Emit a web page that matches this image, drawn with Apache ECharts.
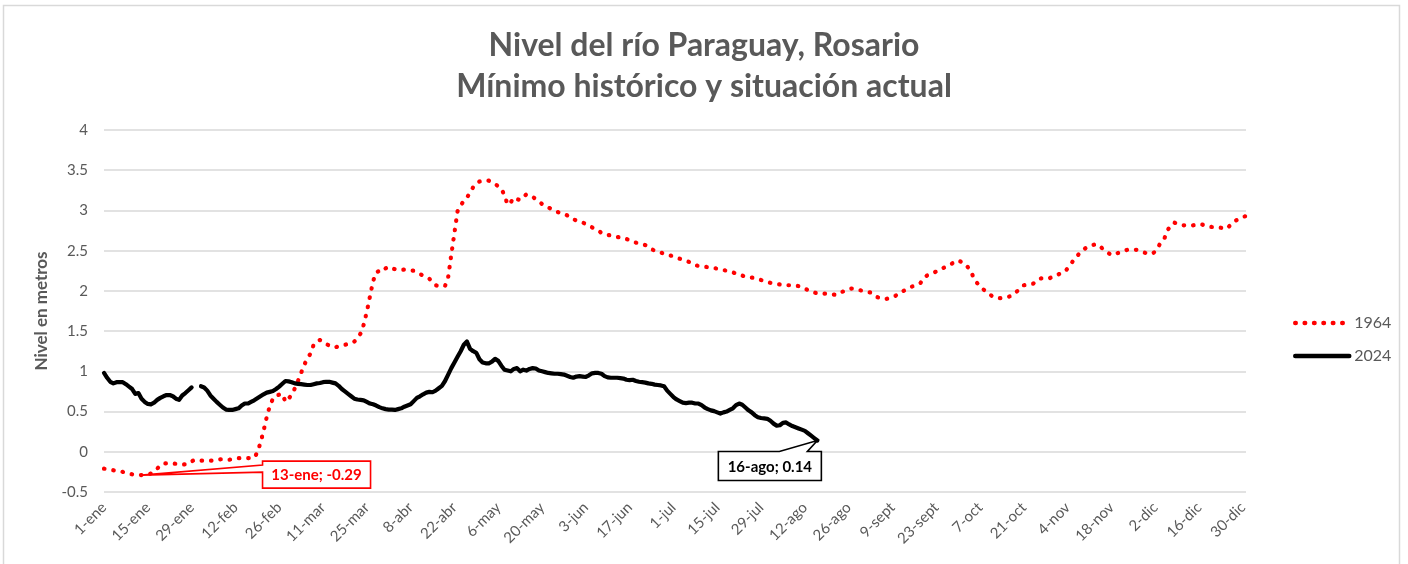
<!DOCTYPE html>
<html>
<head>
<meta charset="utf-8">
<script src="https://cdn.jsdelivr.net/npm/echarts@6/dist/echarts.min.js"></script>
<style>
html,body{margin:0;padding:0;background:#fff;}
#c{width:1408px;height:564px;}
</style>
</head>
<body>
<div id="c"></div>
<script>
// Calendar used for the category labels (leap year)
const monthNames = ['ene','feb','mar','abr','may','jun','jul','ago','sept','oct','nov','dic'];
const monthDays = [31,29,31,30,31,30,31,31,30,31,30,31];

// Series names
const seriesNames = ['1964', '2024'];

// Nivel 1964 (m), daily from 1-ene
const nivel1964 = [
-0.21,-0.215,-0.22,-0.23,-0.235,-0.24,-0.25,-0.26,-0.27,-0.28,
-0.285,-0.29,-0.29,-0.285,-0.28,-0.27,-0.24,-0.21,-0.17,-0.145,
-0.145,-0.145,-0.145,-0.15,-0.155,-0.16,-0.155,-0.15,-0.12,-0.10,
-0.105,-0.11,-0.11,-0.11,-0.11,-0.11,-0.10,-0.095,-0.09,-0.095,
-0.10,-0.09,-0.085,-0.08,-0.08,-0.08,-0.08,-0.078,-0.075,-0.01,
0.11,0.26,0.43,0.57,0.66,0.70,0.71,0.72,0.62,0.66,
0.71,0.79,0.88,0.98,1.08,1.16,1.22,1.33,1.37,1.39,
1.37,1.34,1.32,1.30,1.30,1.31,1.32,1.33,1.34,1.35,
1.37,1.41,1.47,1.58,1.74,1.93,2.12,2.23,2.25,2.24,
2.28,2.30,2.28,2.27,2.26,2.26,2.265,2.26,2.255,2.25,
2.23,2.21,2.19,2.17,2.15,2.11,2.07,2.06,2.06,2.06,
2.17,2.45,2.72,2.99,3.06,3.12,3.16,3.22,3.29,3.34,
3.36,3.37,3.375,3.37,3.35,3.33,3.30,3.27,3.19,3.07,
3.10,3.16,3.14,3.13,3.17,3.20,3.19,3.17,3.14,3.11,
3.08,3.06,3.035,3.02,3.00,2.98,2.97,2.96,2.94,2.91,
2.89,2.875,2.86,2.85,2.83,2.81,2.79,2.77,2.75,2.72,
2.70,2.695,2.69,2.68,2.67,2.665,2.66,2.645,2.63,2.615,
2.60,2.59,2.58,2.57,2.55,2.52,2.50,2.49,2.475,2.465,
2.45,2.44,2.43,2.415,2.40,2.39,2.375,2.36,2.34,2.32,
2.31,2.305,2.30,2.295,2.29,2.285,2.275,2.265,2.26,2.25,
2.24,2.23,2.215,2.20,2.19,2.175,2.17,2.165,2.16,2.15,
2.135,2.12,2.11,2.10,2.09,2.085,2.08,2.075,2.07,2.07,
2.07,2.065,2.06,2.05,2.03,2.01,1.99,1.98,1.97,1.965,
1.965,1.965,1.96,1.955,1.95,1.97,1.99,2.00,2.02,2.03,
2.025,2.015,2.005,1.995,1.985,1.98,1.95,1.925,1.91,1.90,
1.90,1.91,1.925,1.94,1.965,1.99,2.01,2.03,2.05,2.065,
2.08,2.10,2.16,2.19,2.21,2.225,2.24,2.26,2.28,2.30,
2.32,2.34,2.36,2.38,2.36,2.345,2.30,2.25,2.16,2.10,
2.06,2.02,1.99,1.96,1.93,1.915,1.91,1.91,1.915,1.925,
1.94,1.97,2.00,2.04,2.07,2.075,2.085,2.09,2.12,2.15,
2.16,2.16,2.155,2.17,2.19,2.205,2.22,2.235,2.28,2.33,
2.39,2.43,2.48,2.51,2.54,2.56,2.57,2.58,2.57,2.53,
2.50,2.47,2.445,2.455,2.47,2.48,2.495,2.51,2.51,2.51,
2.51,2.50,2.485,2.47,2.465,2.46,2.49,2.55,2.62,2.66,
2.76,2.81,2.85,2.835,2.82,2.815,2.815,2.815,2.815,2.82,
2.83,2.825,2.81,2.80,2.795,2.79,2.79,2.785,2.78,2.775,
2.82,2.86,2.88,2.90,2.92,2.93
];

// Nivel 2024 (m), daily from 1-ene to 16-ago (gap = missing days)
const nivel2024 = [
0.98,0.92,0.87,0.85,0.865,0.865,0.865,0.84,0.81,0.78,
0.72,0.73,0.66,0.62,0.595,0.59,0.61,0.645,0.67,0.69,
0.705,0.705,0.69,0.66,0.645,0.70,0.73,0.765,0.80,null,
null,0.815,0.80,0.76,0.70,0.66,0.62,0.585,0.55,0.525,
0.52,0.52,0.53,0.54,0.575,0.60,0.60,0.62,0.64,0.665,
0.69,0.715,0.735,0.745,0.755,0.78,0.81,0.845,0.88,0.875,
0.865,0.85,0.845,0.84,0.835,0.83,0.83,0.84,0.85,0.855,
0.865,0.87,0.87,0.86,0.85,0.82,0.78,0.75,0.72,0.69,
0.66,0.65,0.645,0.64,0.62,0.60,0.59,0.575,0.555,0.54,
0.53,0.525,0.525,0.52,0.53,0.54,0.56,0.575,0.59,0.63,
0.67,0.69,0.715,0.735,0.745,0.74,0.76,0.79,0.82,0.88,
0.96,1.04,1.11,1.18,1.25,1.33,1.37,1.28,1.25,1.23,
1.15,1.11,1.10,1.10,1.12,1.155,1.13,1.07,1.02,1.01,
1.00,1.03,1.04,1.00,1.02,1.01,1.03,1.04,1.035,1.01,
1.00,0.99,0.98,0.975,0.97,0.97,0.965,0.96,0.945,0.93,
0.92,0.935,0.94,0.935,0.93,0.95,0.975,0.98,0.98,0.97,
0.94,0.925,0.92,0.92,0.92,0.915,0.91,0.895,0.89,0.895,
0.88,0.87,0.865,0.86,0.85,0.845,0.835,0.83,0.825,0.815,
0.76,0.72,0.68,0.65,0.63,0.61,0.605,0.61,0.61,0.60,
0.60,0.58,0.55,0.53,0.515,0.505,0.49,0.475,0.49,0.50,
0.52,0.54,0.58,0.60,0.585,0.55,0.515,0.49,0.455,0.43,
0.42,0.415,0.41,0.385,0.35,0.325,0.33,0.36,0.365,0.34,
0.32,0.305,0.29,0.275,0.26,0.23,0.20,0.17,0.14
];

// Annotated points: [day index, value, label]
const calloutMin = [12, -0.29, '13-ene; -0.29'];
const calloutNow = [228, 0.14, '16-ago; 0.14'];

const categories = [];
monthNames.forEach(function (m, i) {
  for (let d = 1; d <= monthDays[i]; d++) categories.push(d + '-' + m);
});

const FONT = 'Lato, "Open Sans", sans-serif';
const GREY = '#595959';

const chart = echarts.init(document.getElementById('c'), null, {renderer: 'canvas'});
chart.setOption({
  animation: false,
  backgroundColor: '#ffffff',
  textStyle: {fontFamily: FONT},
  title: {
    text: 'Nivel del río Paraguay, Rosario\nMínimo histórico y situación actual',
    left: 'center',
    top: 20,
    textStyle: {fontFamily: FONT, fontWeight: 'bold', fontSize: 32, color: GREY, lineHeight: 41}
  },
  legend: {
    orient: 'vertical',
    left: 1288,
    top: 310,
    itemWidth: 54,
    itemHeight: 14,
    itemGap: 17,
    data: seriesNames,
    itemStyle: {opacity: 0},
    lineStyle: {width: 4.5},
    textStyle: {fontFamily: FONT, fontSize: 16, color: GREY}
  },
  grid: {left: 104, right: 162, top: 130, bottom: 72, containLabel: false, outerBoundsMode: 'none'},
  xAxis: {
    type: 'category',
    data: categories,
    boundaryGap: false,
    axisLine: {show: false},
    axisTick: {show: false},
    axisLabel: {interval: 13, rotate: 45, fontFamily: FONT, fontSize: 15, color: GREY, margin: 13}
  },
  yAxis: {
    type: 'value',
    min: -0.5,
    max: 4,
    interval: 0.5,
    name: 'Nivel en metros',
    nameLocation: 'middle',
    nameGap: 54,
    nameTextStyle: {fontFamily: FONT, fontWeight: 'bold', fontSize: 17, color: GREY},
    axisLine: {show: false},
    axisTick: {show: false},
    axisLabel: {fontFamily: FONT, fontSize: 15, color: GREY, margin: 16},
    splitLine: {lineStyle: {color: '#d9d9d9', width: 1.5}}
  },
  series: [
    {
      name: seriesNames[0],
      type: 'line',
      data: nivel1964,
      symbol: 'none',
      connectNulls: false,
      lineStyle: {color: '#ff0000', width: 4.2, type: [0.5, 8.9], cap: 'round'},
      itemStyle: {color: '#ff0000'},
      z: 3
    },
    {
      name: seriesNames[1],
      type: 'line',
      data: nivel2024,
      symbol: 'none',
      connectNulls: false,
      lineStyle: {color: '#000000', width: 4.2, join: 'round', cap: 'round'},
      itemStyle: {color: '#000000'},
      z: 4
    }
  ]
});

function callout(pt, color, text, box, wedge) {
  const p = chart.convertToPixel({gridIndex: 0}, [pt[0], pt[1]]);
  const L = p[0] + box.dx, T = p[1] + box.dy, R = L + box.w, B = T + box.h;
  let pts;
  if (wedge.side === 'left') {
    pts = [[L, T], [R, T], [R, B], [L, B], [L, T + wedge.b], p, [L, T + wedge.a]];
  } else {
    pts = [[L, T], [L + wedge.a, T], p, [L + wedge.b, T], [R, T], [R, B], [L, B]];
  }
  return [
    {type: 'polygon', z: 100, silent: true, shape: {points: pts},
     style: {fill: '#ffffff', stroke: color, lineWidth: 1.6}},
    {type: 'text', z: 101, silent: true,
     style: {text: text, x: (L + R) / 2, y: (T + B) / 2 + 1, align: 'center', verticalAlign: 'middle',
             fill: color, font: 'bold 15px ' + FONT}}
  ];
}

const g = [];
g.push({type: 'rect', silent: true, z: 0, shape: {x: 3.5, y: 5.5, width: 1396, height: 620},
        style: {fill: 'none', stroke: '#d9d9d9', lineWidth: 1.5}});
callout(calloutMin, '#ff0000', calloutMin[2], {dx: 121, dy: -14, w: 108, h: 27}, {side: 'left', a: 4, b: 11}).forEach(e => g.push(e));
callout(calloutNow, '#000000', calloutNow[2], {dx: -99, dy: 11, w: 103, h: 29}, {side: 'top', a: 61, b: 89}).forEach(e => g.push(e));
chart.setOption({graphic: g});
</script>
</body>
</html>
